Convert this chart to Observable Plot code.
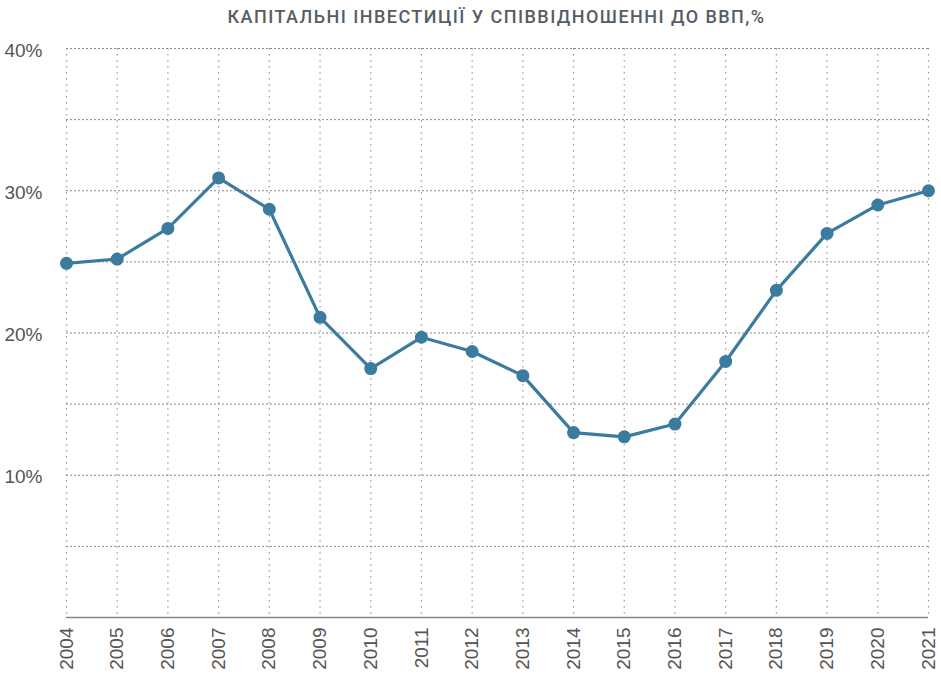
<!DOCTYPE html>
<html><head><meta charset="utf-8">
<script src="https://cdn.jsdelivr.net/npm/d3@7"></script>
<script src="https://cdn.jsdelivr.net/npm/@observablehq/plot@0.6"></script>
<style>
body{margin:0;background:#fff;}
#title{height:33px;width:941px;box-sizing:border-box;padding-left:52px;text-align:center;font-family:Roboto,"Liberation Sans",Arial,sans-serif;font-weight:500;font-size:18px;letter-spacing:1.45px;color:#575d63;line-height:33px;}
</style></head><body>
<div id="title">КАПІТАЛЬНІ ІНВЕСТИЦІЇ У СПІВВІДНОШЕННІ ДО ВВП,%</div>
<div id="chart"></div>
<script>
const years = [2004,2005,2006,2007,2008,2009,2010,2011,2012,2013,2014,2015,2016,2017,2018,2019,2020,2021];
const values = [24.9,25.2,27.35,30.9,28.7,21.1,17.5,19.7,18.7,17.0,13.0,12.7,13.6,18.0,23.0,27.0,29.0,30.0];
const yGrid = [5,10,15,20,25,30,35,40];
const yTicks = [10,20,30,40];
const data = years.map((y,i)=>({year:y, value:values[i]}));
const plot = Plot.plot({
  width: 941, height: 642,
  marginTop: 15, marginBottom: 58, marginLeft: 66, marginRight: 13,
  style: {fontFamily: "'Liberation Sans', Arial, sans-serif", fontSize: "19px", color: "#555", background: "#fff"},
  x: {type: "point", domain: years, padding: 0, round: false, label: null},
  y: {domain: [0,40], label: null},
  marks: [
    Plot.ruleX(years, {stroke: "#999", strokeWidth: 1.2, strokeDasharray: "1.5,4.5"}),
    Plot.ruleY(yGrid, {stroke: "#8a8a8a", strokeWidth: 1, strokeDasharray: "2,2"}),
    Plot.ruleY([0], {stroke: "#888", strokeWidth: 1.5}),
    Plot.axisY(yTicks, {tickSize: 0, tickPadding: 24, tickFormat: d => d + "%", fill: "#555", fontSize: 19, dy: 2}),
    Plot.axisX(years, {tickSize: 0, tickRotate: -90, tickPadding: 10, fill: "#555", fontSize: 19, tickFormat: d => String(d)}),
    Plot.line(data, {x: "year", y: "value", stroke: "#3a7b9e", strokeWidth: 3.2}),
    Plot.dot(data, {x: "year", y: "value", fill: "#3a7b9e", r: 6.5})
  ]
});
document.getElementById("chart").appendChild(plot);
</script>
</body></html>
